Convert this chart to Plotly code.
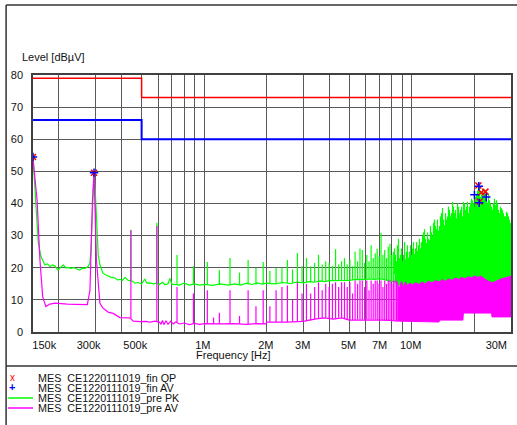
import plotly.graph_objects as go

# ---- limits (MHz, dBµV)
qp_limit_mhz = [0.15, 0.5, 0.5, 30.0]
qp_limit_db = [79, 79, 73, 73]
av_limit_mhz = [0.15, 0.5, 0.5, 30.0]
av_limit_db = [66, 66, 60, 60]

# ---- final measurements
fin_qp_mhz = [0.150, 0.295, 20.9, 21.6, 22.6, 21.2]
fin_qp_db = [54.5, 49.6, 45.6, 43.4, 43.7, 40.6]
fin_av_mhz = [0.150, 0.295, 20.0, 21.1, 22.8, 21.0]
fin_av_db = [54.5, 49.6, 42.7, 40.2, 42.0, 45.4]

# ---- pre scan peak: baseline
pre_pk_mhz = [0.150, 0.153, 0.157, 0.159, 0.164, 0.171, 0.176, 0.181, 0.186, 0.191,
              0.198, 0.204, 0.210, 0.216, 0.222, 0.229, 0.236, 0.244, 0.252, 0.259,
              0.267, 0.276, 0.282, 0.285, 0.290, 0.295, 0.299, 0.303, 0.309, 0.315,
              0.325, 0.335, 0.345, 0.355, 0.372, 0.383, 0.393, 0.404, 0.416, 0.428,
              0.440, 0.452, 0.464, 0.480, 0.500, 0.518, 0.530, 0.548, 0.570, 0.590,
              0.610, 0.630, 0.647, 0.670, 0.684, 0.700, 0.720, 0.760, 0.800, 0.850,
              0.900, 0.950, 1.00, 1.10, 1.20, 1.30, 1.40, 1.50, 1.60, 1.70, 1.80,
              1.90, 2.00, 2.20, 2.40, 2.60, 2.80, 3.00, 3.20, 3.40, 3.60, 3.80, 4.00,
              4.30, 4.60, 5.00, 5.40, 5.80, 6.20, 6.60, 7.00, 7.40, 7.80, 8.25]
pre_pk_db = [54.5, 45.0, 33.0, 27.7, 23.4, 20.9, 21.2, 20.4, 20.9, 20.6,
             19.3, 20.2, 20.9, 19.9, 20.1, 19.8, 20.0, 19.6, 19.3, 19.9,
             19.8, 20.4, 21.5, 25.5, 41.0, 49.6, 44.0, 36.0, 24.0, 21.0,
             18.4, 17.8, 17.4, 17.1, 16.8, 16.2, 16.4, 16.0, 17.0, 16.2,
             15.9, 15.8, 15.2, 15.4, 15.0, 16.5, 15.2, 15.3, 15.0, 15.2,
             14.8, 15.5, 14.7, 15.0, 16.7, 14.8, 14.8, 14.6, 15.2, 14.6,
             15.0, 14.6, 14.8, 14.5, 15.0, 14.6, 15.0, 14.6, 15.2, 14.8, 15.3,
             14.9, 15.2, 15.0, 15.4, 15.1, 15.5, 15.3, 15.7, 15.5, 15.9, 15.7, 16.0,
             16.0, 16.2, 16.1, 16.4, 16.3, 16.5, 16.4, 16.6, 16.2, 15.9, 15.6]

# ---- pre scan peak: narrow harmonic spikes
pre_pk_spike_mhz = [0.444, 0.592, 0.740, 0.888, 1.036, 1.184, 1.332, 1.480, 1.628, 1.776,
                    1.924, 2.072, 2.220, 2.368, 2.516, 2.664, 2.812, 2.960, 3.108, 3.256,
                    3.404, 3.552, 3.700, 3.848, 3.996, 4.144, 4.292, 4.440, 4.588, 4.736,
                    4.884, 5.032, 5.180, 5.328, 5.476, 5.624, 5.772, 5.920, 6.068, 6.216,
                    6.364, 6.512, 6.660, 6.808, 6.956, 7.104, 7.252, 7.400, 7.548, 7.696,
                    7.844, 7.992, 8.140]
pre_pk_spike_top = [31.8, 34.0, 24.0, 20.5, 21.8, 19.3, 23.0, 18.5, 22.4, 20.0,
                    21.8, 19.0, 20.0, 20.0, 22.4, 19.5, 24.6, 20.5, 23.0, 20.5,
                    21.5, 24.0, 21.0, 22.0, 21.5, 20.5, 25.8, 21.0, 22.0, 23.0,
                    21.0, 22.5, 20.5, 25.0, 22.0, 26.0, 25.5, 21.5, 24.0, 22.0,
                    27.0, 23.0, 24.5, 26.0, 23.5, 30.8, 24.0, 25.5, 23.0, 26.5,
                    27.5, 24.0, 25.0]
pre_pk_spike_foot = [15.8, 15.2, 14.8, 14.8, 14.7, 14.6, 14.6, 14.7, 14.8, 14.8,
                     14.9, 15.0, 15.0, 15.1, 15.2, 15.2, 15.3, 15.4, 15.5, 15.5,
                     15.6, 15.7, 15.8, 15.8, 15.9, 16.0, 16.0, 16.0, 16.1, 16.1,
                     16.2, 16.2, 16.2, 16.3, 16.3, 16.3, 16.3, 16.4, 16.4, 16.4,
                     16.5, 16.5, 16.5, 16.5, 16.5, 16.4, 16.3, 16.2, 16.0, 15.9,
                     15.8, 15.7, 15.6]

# ---- pre scan peak: dense band above 8 MHz
pk_band_mhz = [8.25, 9.0, 10.0, 11.0, 12.0, 13.0, 14.0, 15.0, 16.0, 17.0, 18.0,
               19.0, 20.0, 21.0, 22.0, 23.0, 24.0, 25.0, 26.0, 27.0, 28.0, 29.0, 30.0]
pk_band_top = [21.0, 22.0, 23.5, 26.0, 28.0, 30.5, 32.5, 34.0, 35.0, 35.5, 36.0,
               36.5, 37.5, 38.0, 37.5, 36.5, 35.5, 35.0, 34.5, 34.0, 33.0, 32.5, 31.5]
pk_band_bottom = [15.6, 14.0, 14.0, 14.0, 14.2, 14.4, 14.6, 14.8, 15.0, 15.2, 15.4,
                  15.5, 15.6, 15.6, 15.4, 14.8, 14.4, 14.2, 14.6, 15.0, 15.2, 15.4, 15.6]
pk_dense_spike_mhz = [8.25, 8.34, 8.43, 8.52, 8.62, 8.72, 8.82, 8.91, 9.01, 9.11,
                      9.22, 9.32, 9.42, 9.52, 9.63, 9.74, 9.85, 9.96, 10.07, 10.18,
                      10.30, 10.41, 10.53, 10.64, 10.76, 10.88, 11.00, 11.12, 11.25, 11.37,
                      11.50, 11.63, 11.76, 11.89, 12.02, 12.15, 12.29, 12.43, 12.57, 12.71,
                      12.85, 12.99, 13.14, 13.28, 13.43, 13.58, 13.73, 13.88, 14.04, 14.20,
                      14.36, 14.52, 14.68, 14.84, 15.00, 15.17, 15.34, 15.51, 15.69, 15.86,
                      16.04, 16.22, 16.40, 16.58, 16.76, 16.95, 17.14, 17.33, 17.52, 17.72,
                      17.92, 18.12, 18.32, 18.52, 18.73, 18.94, 19.15, 19.36, 19.58, 19.80,
                      20.02, 20.24, 20.46, 20.69, 20.92, 21.15, 21.39, 21.63, 21.87, 22.11,
                      22.36, 22.61, 22.86, 23.11, 23.37, 23.63, 23.89, 24.16, 24.43, 24.70,
                      24.98, 25.26, 25.54, 25.82, 26.11, 26.40, 26.69, 26.99, 27.29, 27.59,
                      27.90, 28.21, 28.53, 28.85, 29.17, 29.50, 29.82]
pk_dense_spike_top = [26.0, 24.0, 22.0, 27.0, 29.0, 23.0, 24.0, 26.0, 21.0, 24.0,
                      28.0, 22.0, 25.0, 27.0, 23.0, 25.0, 27.0, 24.0, 26.0, 28.0,
                      24.0, 26.0, 28.0, 25.0, 27.0, 29.0, 25.0, 28.0, 30.0, 31.0,
                      32.0, 29.0, 27.0, 31.0, 29.0, 28.0, 33.0, 31.0, 30.0, 34.0,
                      35.0, 33.0, 32.0, 35.0, 30.0, 33.0, 36.0, 37.0, 38.6, 35.0,
                      33.0, 37.0, 35.0, 36.0, 39.0, 38.0, 36.0, 37.0, 40.5, 39.0,
                      37.0, 38.0, 34.0, 40.0, 39.0, 37.0, 38.0, 39.0, 36.0, 40.5,
                      40.0, 38.0, 39.0, 40.5, 37.0, 39.0, 40.2, 41.5, 41.0, 40.0,
                      39.0, 42.0, 43.0, 44.0, 46.0, 45.0, 42.0, 43.5, 44.5, 42.0,
                      44.0, 43.0, 41.0, 40.0, 43.0, 41.0, 40.0, 39.0, 38.0, 40.0,
                      41.5, 39.5, 41.0, 40.0, 38.0, 37.0, 39.0, 38.5, 38.0, 37.0,
                      36.0, 36.0, 37.4, 37.0, 36.0, 35.0, 34.0]

# ---- pre scan average: baseline
pre_av_mhz = [0.150, 0.157, 0.162, 0.167, 0.173, 0.181, 0.191, 0.202, 0.220, 0.240,
              0.260, 0.274, 0.282, 0.290, 0.295, 0.303, 0.315, 0.325, 0.345, 0.365,
              0.393, 0.429, 0.440, 0.456, 0.490, 0.520, 0.550, 0.580, 0.610, 0.620,
              0.630, 0.640, 0.655, 0.670, 0.690, 0.710, 0.730, 0.760, 0.800, 0.850,
              0.900, 0.950, 1.00, 1.20, 1.40, 1.60, 1.80, 1.98, 2.00, 2.50, 3.00,
              3.40, 3.80, 4.20, 4.60, 5.00, 6.00, 7.00, 8.00, 8.50]
pre_av_db = [54.0, 41.0, 22.4, 11.0, 7.9, 8.7, 9.0, 8.8, 8.7, 8.6,
             8.6, 8.5, 13.0, 41.0, 49.6, 22.4, 8.9, 7.5, 6.2, 5.8,
             4.5, 4.5, 4.4, 3.4, 3.2, 3.3, 3.1, 3.4, 3.0, 2.4,
             3.6, 2.3, 3.5, 2.4, 3.4, 2.5, 3.1, 2.5, 2.8, 2.3,
             2.7, 2.4, 2.6, 2.5, 2.6, 2.4, 2.6, 2.5, 3.1, 3.1, 3.3,
             4.0, 4.4, 4.0, 4.4, 3.7, 3.8, 3.7, 3.6, 3.4]

# ---- pre scan average: spikes
pre_av_spike_mhz = [0.444, 0.592, 0.740, 0.888, 1.036, 1.110, 1.184, 1.332, 1.480, 1.628,
                    1.776, 1.924, 2.072, 2.220, 2.368, 2.516, 2.664, 2.812, 2.960, 3.108,
                    3.256, 3.404, 3.552, 3.700, 3.848, 3.996, 4.144, 4.292, 4.440, 4.588,
                    4.736, 4.884, 5.032, 5.180, 5.328, 5.476, 5.624, 5.772, 5.920, 6.068,
                    6.216, 6.364, 6.512, 6.660, 6.808, 6.956, 7.104, 7.252, 7.400, 7.548,
                    7.696, 7.844, 7.992, 8.140, 8.288, 8.436]
pre_av_spike_top = [31.7, 33.0, 14.0, 12.0, 13.0, 4.5, 6.0, 13.0, 5.0, 13.0,
                    8.0, 13.0, 8.0, 13.0, 14.0, 14.5, 10.0, 15.5, 12.0, 15.0,
                    12.0, 14.0, 15.5, 13.0, 15.0, 14.0, 15.0, 15.5, 14.0, 15.5,
                    15.5, 14.0, 15.5, 12.0, 16.0, 15.0, 16.0, 16.0, 14.0, 16.0,
                    13.0, 16.0, 15.0, 16.0, 16.0, 15.0, 16.0, 14.0, 16.0, 15.0,
                    16.0, 16.0, 15.0, 16.0, 16.0, 16.0]
pre_av_spike_foot = [4.4, 3.3, 3.0, 2.6, 2.6, 2.5, 2.5, 2.5, 2.6, 2.4,
                     2.6, 2.5, 3.1, 3.1, 3.1, 3.1, 3.2, 3.2, 3.3, 3.4,
                     3.6, 4.0, 4.1, 4.3, 4.4, 4.2, 4.0, 4.2, 4.4, 4.4,
                     4.1, 3.9, 3.7, 3.7, 3.7, 3.8, 3.8, 3.8, 3.8, 3.8,
                     3.8, 3.8, 3.8, 3.8, 3.7, 3.7, 3.7, 3.7, 3.7, 3.7,
                     3.6, 3.6, 3.6, 3.6, 3.5, 3.4]

# ---- pre scan average: dense band
av_band_top_mhz = [8.5, 8.7, 8.9, 9.1, 9.3, 9.5, 9.8, 10.1, 10.4, 10.8, 11.2, 11.6,
                   12.0, 12.5, 13.0, 13.5, 14.0, 14.5, 15.0, 15.6, 16.2, 16.8, 17.4,
                   18.0, 18.7, 19.4, 20.1, 20.8, 21.5, 22.3, 23.0, 23.8, 24.6, 25.4,
                   26.2, 27.0, 28.0, 29.0, 30.0]
av_band_top_db = [15.5, 13.5, 15.8, 14.0, 15.6, 14.5, 15.2, 14.6, 15.4, 14.8, 15.6, 15.0,
                  15.8, 15.3, 16.0, 15.6, 16.3, 15.8, 16.5, 16.1, 16.8, 16.4, 17.0,
                  16.6, 17.2, 16.9, 17.4, 17.0, 17.4, 16.6, 16.0, 15.6, 15.4, 15.8,
                  16.3, 16.6, 16.8, 17.0, 17.4]
av_band_bottom_mhz = [8.5, 13.5, 13.6, 17.6, 17.7, 24.2, 24.3, 30.0]
av_band_bottom_db = [3.4, 3.1, 3.7, 3.7, 5.9, 5.9, 4.7, 4.7]

# ---- axes
grid_mhz = [0.2, 0.3, 0.4, 0.5, 0.6, 0.7, 0.8, 0.9, 1, 2, 3, 4, 5, 6, 7, 8, 9, 10, 20]
xlabel_mhz = [0.170, 0.278, 0.466, 0.985, 1.98, 2.98, 4.96, 6.99, 9.86, 25.5]
xlabel_text = ["150k", "300k", "500k", "1M", "2M", "3M", "5M", "7M", "10M", "30M"]
ytick_db = [0, 10, 20, 30, 40, 50, 60, 70, 80]

legend_names = ["MES\u00a0 CE1220111019_fin QP", "MES\u00a0 CE1220111019_fin AV",
                "MES\u00a0 CE1220111019_pre PK", "MES\u00a0 CE1220111019_pre AV"]

GREEN = "#00ff00"
MAGENTA = "#ff00ff"
FONT = "Liberation Sans, Arial, sans-serif"

W, H = 517, 425
L, R, T, B = 33, 4, 75, 93
PW, PH = W - L - R, H - T - B


def px(x):
    return (x - L) / PW


def py(y):
    return (H - B - y) / PH


def segments(freqs, foots, tops):
    xs, ys = [], []
    for f, a, b in zip(freqs, foots, tops):
        xs += [f, f, None]
        ys += [a, b, None]
    return xs, ys


fig = go.Figure()

fig.add_trace(go.Scatter(x=qp_limit_mhz, y=qp_limit_db, mode="lines",
                         line=dict(color="#ff0000", width=1.5)))
fig.add_trace(go.Scatter(x=av_limit_mhz, y=av_limit_db, mode="lines",
                         line=dict(color="#0000ff", width=2)))

# pre PK
fig.add_trace(go.Scatter(x=pk_band_mhz + pk_band_mhz[::-1],
                         y=pk_band_top + pk_band_bottom[::-1],
                         mode="lines", fill="toself", fillcolor=GREEN,
                         line=dict(color=GREEN, width=1)))
sx, sy = segments(pk_dense_spike_mhz, [18.0] * len(pk_dense_spike_mhz), pk_dense_spike_top)
fig.add_trace(go.Scatter(x=sx, y=sy, mode="lines", line=dict(color=GREEN, width=1.2)))
sx, sy = segments(pre_pk_spike_mhz, pre_pk_spike_foot, pre_pk_spike_top)
fig.add_trace(go.Scatter(x=sx, y=sy, mode="lines", line=dict(color=GREEN, width=1.2)))
fig.add_trace(go.Scatter(x=pre_pk_mhz, y=pre_pk_db, mode="lines",
                         line=dict(color=GREEN, width=1.2)))

# pre AV
fig.add_trace(go.Scatter(x=av_band_top_mhz + av_band_bottom_mhz[::-1],
                         y=av_band_top_db + av_band_bottom_db[::-1],
                         mode="lines", fill="toself", fillcolor=MAGENTA,
                         line=dict(color=MAGENTA, width=1)))
sx, sy = segments(pre_av_spike_mhz, pre_av_spike_foot, pre_av_spike_top)
fig.add_trace(go.Scatter(x=sx, y=sy, mode="lines", line=dict(color=MAGENTA, width=1.2)))
fig.add_trace(go.Scatter(x=pre_av_mhz, y=pre_av_db, mode="lines",
                         line=dict(color=MAGENTA, width=1.2)))

# finals
fig.add_trace(go.Scatter(x=fin_qp_mhz, y=fin_qp_db, mode="markers",
                         marker=dict(symbol="x-thin", size=6, line=dict(color="#ff0000", width=1.5))))
fig.add_trace(go.Scatter(x=fin_av_mhz, y=fin_av_db, mode="markers",
                         marker=dict(symbol="cross-thin", size=6, line=dict(color="#0000ff", width=1.5))))

fig.update_xaxes(type="log", range=[-0.8239, 1.4771], tickmode="array",
                 tickvals=xlabel_mhz, ticktext=xlabel_text, ticks="", showgrid=False,
                 minor=dict(tickmode="array", tickvals=grid_mhz, showgrid=True,
                            gridcolor="#5a5a5a", gridwidth=1, ticks=""),
                 showline=True, mirror=True, linecolor="#404040", linewidth=1.5,
                 zeroline=False, ticklabelstandoff=2,
                 tickfont=dict(family=FONT, size=11, color="#111"))
fig.update_yaxes(range=[0, 80], tickvals=ytick_db, ticks="", showgrid=True,
                 gridcolor="#5a5a5a", gridwidth=1, zeroline=False,
                 showline=True, mirror=True, linecolor="#404040", linewidth=1.5,
                 ticklabelstandoff=6,
                 tickfont=dict(family=FONT, size=11, color="#111"))

frame = dict(color="#333333", width=1.5)
shapes = [
    dict(type="line", xref="paper", yref="paper", x0=px(6), x1=px(6), y0=py(5), y1=py(430), line=frame),
    dict(type="line", xref="paper", yref="paper", x0=px(6), x1=px(520), y0=py(5), y1=py(5), line=frame),
    dict(type="line", xref="paper", yref="paper", x0=px(6), x1=px(520), y0=py(366), y1=py(366), line=frame),
    dict(type="line", xref="paper", yref="paper", x0=px(8), x1=px(33), y0=py(398), y1=py(398),
         line=dict(color=GREEN, width=1.5)),
    dict(type="line", xref="paper", yref="paper", x0=px(8), x1=px(33), y0=py(408), y1=py(408),
         line=dict(color=MAGENTA, width=1.5)),
]

annotations = [
    dict(text="Level [dBµV]", x=px(20), y=py(57), xref="paper", yref="paper",
         xanchor="left", yanchor="middle", showarrow=False,
         font=dict(family=FONT, size=11, color="#111")),
    dict(text="Frequency [Hz]", x=px(234), y=py(355), xref="paper", yref="paper",
         xanchor="center", yanchor="middle", showarrow=False,
         font=dict(family=FONT, size=11, color="#111")),
    dict(text="x", x=px(12), y=py(377), xref="paper", yref="paper",
         xanchor="center", yanchor="middle", showarrow=False,
         font=dict(family=FONT, size=10, color="#ff0000")),
    dict(text="<b>+</b>", x=px(12), y=py(387), xref="paper", yref="paper",
         xanchor="center", yanchor="middle", showarrow=False,
         font=dict(family=FONT, size=11, color="#0000ff")),
]
for i, name in enumerate(legend_names):
    annotations.append(dict(text=name, x=px(36), y=py(378 + 10 * i), xref="paper", yref="paper",
                            xanchor="left", yanchor="middle", showarrow=False,
                            font=dict(family=FONT, size=10.75, color="#111")))

fig.update_layout(
    width=W, height=H, showlegend=False,
    margin=dict(l=L, r=R, t=T, b=B, pad=0),
    paper_bgcolor="white", plot_bgcolor="white",
    shapes=shapes, annotations=annotations,
)

fig.write_html("out.html", config={"displayModeBar": False},
               post_script="document.body.style.margin='0';")
